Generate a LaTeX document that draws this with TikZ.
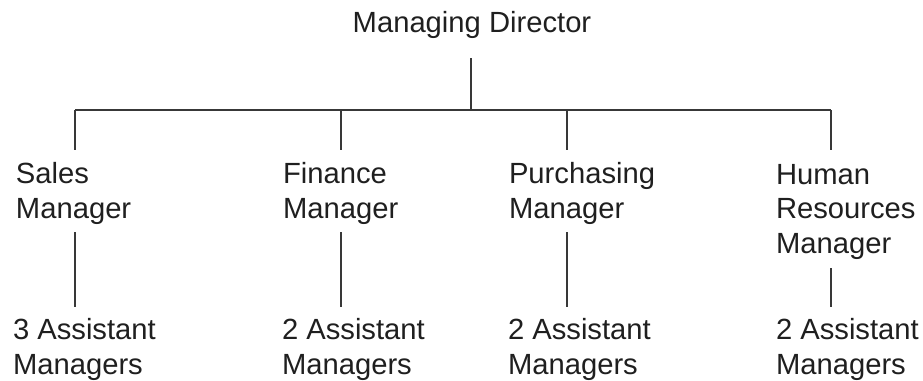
\documentclass[tikz,border=0pt]{standalone}
\usepackage{fontspec}
\setmainfont{Liberation Sans}
\begin{document}
\begin{tikzpicture}[x=1pt,y=-1pt,
  lbl/.style={inner sep=0pt, outer sep=0pt, align=left, anchor=base west,
    text=black!88, font=\fontsize{29.2}{34.5}\selectfont},
  conn/.style={draw=black!78, line width=1.3pt}]
\useasboundingbox (0,0) rectangle (923,380);
% top (anchor base = baseline of last line)
\node[lbl, anchor=base] (md) at (472,32) {Managing Director};
% managers
\node[lbl] (sm) at (16,218) {Sales\\Manager};
\node[lbl] (fm) at (283,218) {Finance\\Manager};
\node[lbl] (pm) at (509,218) {Purchasing\\Manager};
\node[lbl] (hm) at (776,253) {Human\\Resources\\Manager};
% assistants
\node[lbl] (sa) at (13,374) {3 Assistant\\Managers};
\node[lbl] (fa) at (282,374) {2 Assistant\\Managers};
\node[lbl] (pa) at (508,374) {2 Assistant\\Managers};
\node[lbl] (ha) at (776,374) {2 Assistant\\Managers};
% bus coordinates
\coordinate (mdb) at (471,58);
\coordinate (bus) at (471,110);
\coordinate (b1) at (75,110);
\coordinate (b2) at (341,110);
\coordinate (b3) at (567,110);
\coordinate (b4) at (831,110);
\coordinate (t1) at (75,150);
\coordinate (t2) at (341,150);
\coordinate (t3) at (567,150);
\coordinate (t4) at (831,150);
\coordinate (m1) at (75,232);
\coordinate (m2) at (341,232);
\coordinate (m3) at (567,232);
\coordinate (m4) at (831,268);
\coordinate (a1) at (75,307);
\coordinate (a2) at (341,307);
\coordinate (a3) at (567,307);
\coordinate (a4) at (831,307);
\draw[conn] (mdb) -- (bus);
\draw[conn] (b1) -- (b4);
\draw[conn] (b1) -- (t1);
\draw[conn] (b2) -- (t2);
\draw[conn] (b3) -- (t3);
\draw[conn] (b4) -- (t4);
\draw[conn] (m1) -- (a1);
\draw[conn] (m2) -- (a2);
\draw[conn] (m3) -- (a3);
\draw[conn] (m4) -- (a4);
\end{tikzpicture}
\end{document}
